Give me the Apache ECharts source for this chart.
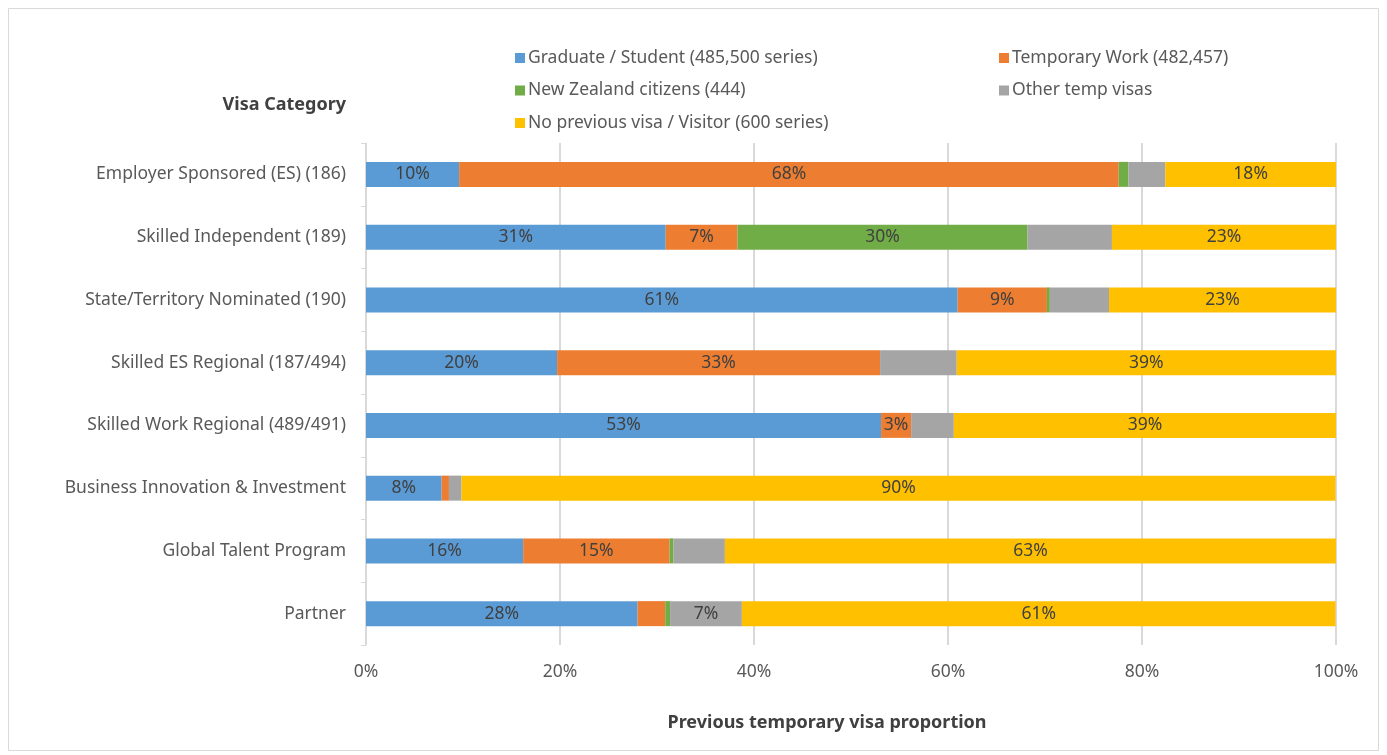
<!DOCTYPE html>
<html>
<head>
<meta charset="utf-8">
<script src="https://cdn.jsdelivr.net/npm/echarts@6/dist/echarts.min.js"></script>
<style>
  html, body { margin: 0; padding: 0; background: #ffffff; }
  #chart { width: 1387px; height: 755px; }
</style>
</head>
<body>
<div id="chart"></div>
<script>
// Visa categories, top to bottom
const categories = [
  'Employer Sponsored (ES) (186)',
  'Skilled Independent (189)',
  'State/Territory Nominated (190)',
  'Skilled ES Regional (187/494)',
  'Skilled Work Regional (489/491)',
  'Business Innovation & Investment',
  'Global Talent Program',
  'Partner'
];

// Share of each previous visa type (%), one value per category
const graduateStudent = [9.6, 30.9, 61.0, 19.7, 53.1, 7.8, 16.2, 28.0];
const temporaryWork   = [68.0, 7.4, 9.2, 33.3, 3.1, 0.75, 15.1, 2.85];
const nzCitizens      = [1.0, 29.9, 0.3, 0.0, 0.0, 0.0, 0.4, 0.5];
const otherTemp       = [3.8, 8.7, 6.1, 7.9, 4.4, 1.3, 5.3, 7.4];
const noPrevious      = [17.6, 23.1, 23.4, 39.1, 39.4, 90.1, 63.0, 61.2];

// Which segments carry a value label
const graduateLabelled  = [1, 1, 1, 1, 1, 1, 1, 1];
const temporaryLabelled = [1, 1, 1, 1, 1, 0, 1, 0];
const nzLabelled        = [0, 1, 0, 0, 0, 0, 0, 0];
const otherLabelled     = [0, 0, 0, 0, 0, 0, 0, 1];
const noPrevLabelled    = [1, 1, 1, 1, 1, 1, 1, 1];

const xTickLabels = ['0%', '20%', '40%', '60%', '80%', '100%'];

const seriesNames = [
  'Graduate / Student (485,500 series)',
  'Temporary Work (482,457)',
  'New Zealand citizens (444)',
  'Other temp visas',
  'No previous visa / Visitor (600 series)'
];
const colors = ['#5b9bd5', '#ed7d31', '#70ad47', '#a5a5a5', '#ffc000'];

const FONT = 'Noto Sans';

function buildSeries(name, values, labelled, color) {
  return {
    name: name,
    type: 'bar',
    stack: 'total',
    barWidth: 25,
    itemStyle: { color: color },
    emphasis: { disabled: true },
    data: values.map((v, i) => ({
      value: v,
      label: {
        show: !!labelled[i],
        position: 'inside',
        color: '#404040',
        fontFamily: FONT,
        fontSize: 17.5,
        formatter: p => Math.round(p.value) + '%'
      }
    }))
  };
}

const chart = echarts.init(document.getElementById('chart'), null, { renderer: 'canvas' });

const legendText = { color: '#595959', fontSize: 17.5, fontFamily: FONT, padding: [0, 0, 0, -2] };

chart.setOption({
  animation: false,
  backgroundColor: '#ffffff',
  textStyle: { fontFamily: FONT },
  graphic: [
    {
      type: 'rect',
      shape: { x: 8.5, y: 8.5, width: 1370, height: 742 },
      style: { fill: 'none', stroke: '#d9d9d9', lineWidth: 1 },
      silent: true
    },
    {
      type: 'text',
      x: 346, y: 105,
      style: {
        text: 'Visa Category',
        align: 'right', verticalAlign: 'middle',
        fill: '#404040', font: 'bold 18px "Noto Sans"'
      }
    }
  ],
  legend: [
    {
      left: 510, top: 44,
      orient: 'vertical',
      itemWidth: 10, itemHeight: 10, itemGap: 14.5,
      icon: 'rect',
      data: [seriesNames[0], seriesNames[2], seriesNames[4]],
      textStyle: legendText
    },
    {
      left: 994, top: 44,
      orient: 'vertical',
      itemWidth: 10, itemHeight: 10, itemGap: 14.5,
      icon: 'rect',
      data: [seriesNames[1], seriesNames[3]],
      textStyle: legendText
    }
  ],
  grid: { left: 366, right: 51, top: 143, bottom: 110, containLabel: false },
  xAxis: {
    type: 'value',
    min: 0, max: 100, interval: 20,
    name: 'Previous temporary visa proportion',
    nameLocation: 'middle',
    nameGap: 69,
    nameTextStyle: {
      color: '#404040', fontSize: 18, fontWeight: 'bold', fontFamily: FONT,
      padding: [0, 48, 0, 0]
    },
    axisLine: { show: false },
    axisTick: { show: false },
    axisLabel: {
      color: '#595959', fontSize: 17.5, fontFamily: FONT, margin: 18,
      formatter: v => xTickLabels[Math.round(v / 20)]
    },
    splitLine: { show: true, lineStyle: { color: '#d9d9d9', width: 2 } }
  },
  yAxis: {
    type: 'category',
    inverse: true,
    data: categories,
    axisLine: { show: true, lineStyle: { color: '#d9d9d9', width: 1 } },
    axisTick: { show: true, length: 5, lineStyle: { color: '#d9d9d9' } },
    axisLabel: { color: '#595959', fontSize: 17.5, fontFamily: FONT, margin: 20 }
  },
  series: [
    buildSeries(seriesNames[0], graduateStudent, graduateLabelled, colors[0]),
    buildSeries(seriesNames[1], temporaryWork, temporaryLabelled, colors[1]),
    buildSeries(seriesNames[2], nzCitizens, nzLabelled, colors[2]),
    buildSeries(seriesNames[3], otherTemp, otherLabelled, colors[3]),
    buildSeries(seriesNames[4], noPrevious, noPrevLabelled, colors[4])
  ]
});
</script>
</body>
</html>
